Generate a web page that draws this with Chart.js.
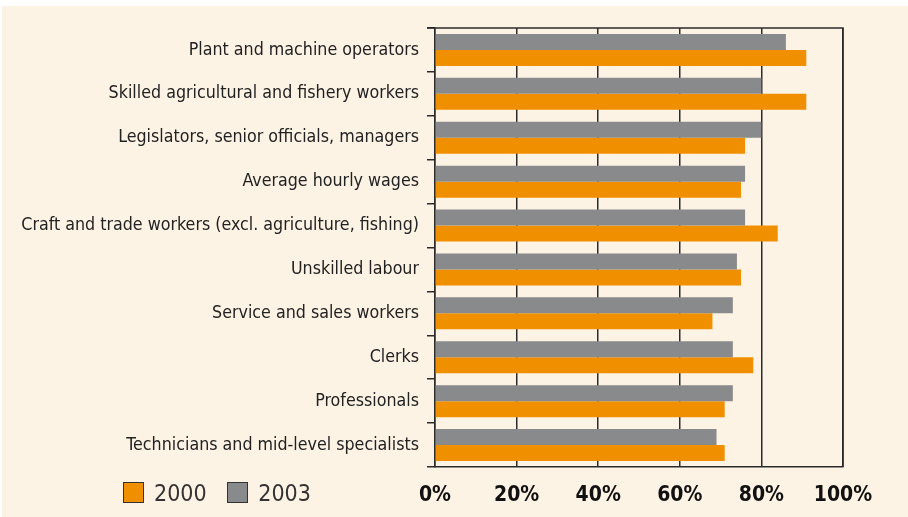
<!DOCTYPE html>
<html>
<head>
<meta charset="utf-8">
<script src="https://cdn.jsdelivr.net/npm/chart.js@4/dist/chart.umd.min.js"></script>
<style>
  html, body { margin: 0; padding: 0; background: #ffffff; }
  #wrap { position: absolute; left: 2px; top: 6px; width: 906px; height: 511px; background: #fdf3e5; }
  #box { position: absolute; left: -2px; top: -6px; width: 908px; height: 517px; }
  #legend { position: absolute; left: 123px; top: 480px; font-family: "Liberation Sans Narrow", "DejaVu Sans Condensed", sans-serif; font-size: 23px; color: #333; }
  #legend span.sw { display: inline-block; width: 21px; height: 21px; border: 1px solid #333; vertical-align: -2px; margin-right: 10px; box-sizing: border-box; }
  #legend span.it { margin-right: 14px; }
</style>
</head>
<body>
<div id="wrap">
  <div id="box"><canvas id="workChart" width="908" height="517"></canvas></div>
</div>
<div id="legend">
  <span class="it"><span class="sw" style="background:#f08f00"></span>2000</span>
  <span class="it"><span class="sw" style="background:#898a8b"></span>2003</span>
</div>
<script>
// categories, top to bottom
let categories = [
  'Plant and machine operators',
  'Skilled agricultural and fishery workers',
  'Legislators, senior officials, managers',
  'Average hourly wages',
  'Craft and trade workers (excl. agriculture, fishing)',
  'Unskilled labour',
  'Service and sales workers',
  'Clerks',
  'Professionals',
  'Technicians and mid-level specialists'
];
let values2003 = [86, 80, 80, 76, 76, 74, 73, 73, 73, 69];
let values2000 = [91, 91, 76, 75, 84, 75, 68, 78, 71, 71];
let xTicks = [0, 20, 40, 60, 80, 100];

// draws the frame round the plot area
let frame = {
  id: 'frame',
  afterDatasetsDraw(chart) {
    let a = chart.chartArea;
    let c = chart.ctx;
    c.save();
    c.strokeStyle = '#2b2b2b';
    c.lineWidth = 1.5;
    c.beginPath();
    c.moveTo(a.left - 8, a.top);
    c.lineTo(a.right, a.top);
    c.lineTo(a.right, a.bottom);
    c.stroke();
    c.restore();
  }
};

let elChart = document.getElementById('workChart').getContext('2d');
let workChart = new Chart(elChart, {
  type: 'bar',
  data: {
    labels: categories,
    datasets: [
      { label: '2003', data: values2003, backgroundColor: '#898a8b' },
      { label: '2000', data: values2000, backgroundColor: '#f08f00' }
    ]
  },
  options: {
    indexAxis: 'y',
    responsive: false,
    animation: false,
    categoryPercentage: 0.73,
    barPercentage: 1.0,
    layout: { padding: { left: 0, right: 65, top: 28, bottom: 0 } },
    plugins: { legend: { display: false }, tooltip: { enabled: false } },
    scales: {
      x: {
        min: 0,
        max: 100,
        afterBuildTicks(scale) { scale.ticks = xTicks.map(v => ({ value: v })); },
        afterFit(scale) { scale.height = 50; },
        grid: { color: '#2b2b2b', lineWidth: 1.5, drawTicks: false },
        border: { color: '#2b2b2b', width: 1.5 },
        ticks: {
          padding: 16,
          color: '#111',
          font: { family: '"Liberation Sans Narrow", "DejaVu Sans Condensed", sans-serif', size: 21, weight: 'bold' },
          callback: v => v + '%'
        }
      },
      y: {
        afterFit(scale) { scale.width = 435; },
        grid: { offset: true, drawOnChartArea: false, drawTicks: true, tickLength: 8, color: '#2b2b2b', lineWidth: 1.5 },
        border: { color: '#2b2b2b', width: 1.5 },
        ticks: {
          padding: 8,
          color: '#222',
          font: { family: '"Liberation Sans Narrow", "DejaVu Sans Condensed", sans-serif', size: 17.7 }
        }
      }
    }
  },
  plugins: [frame]
});
</script>
</body>
</html>
